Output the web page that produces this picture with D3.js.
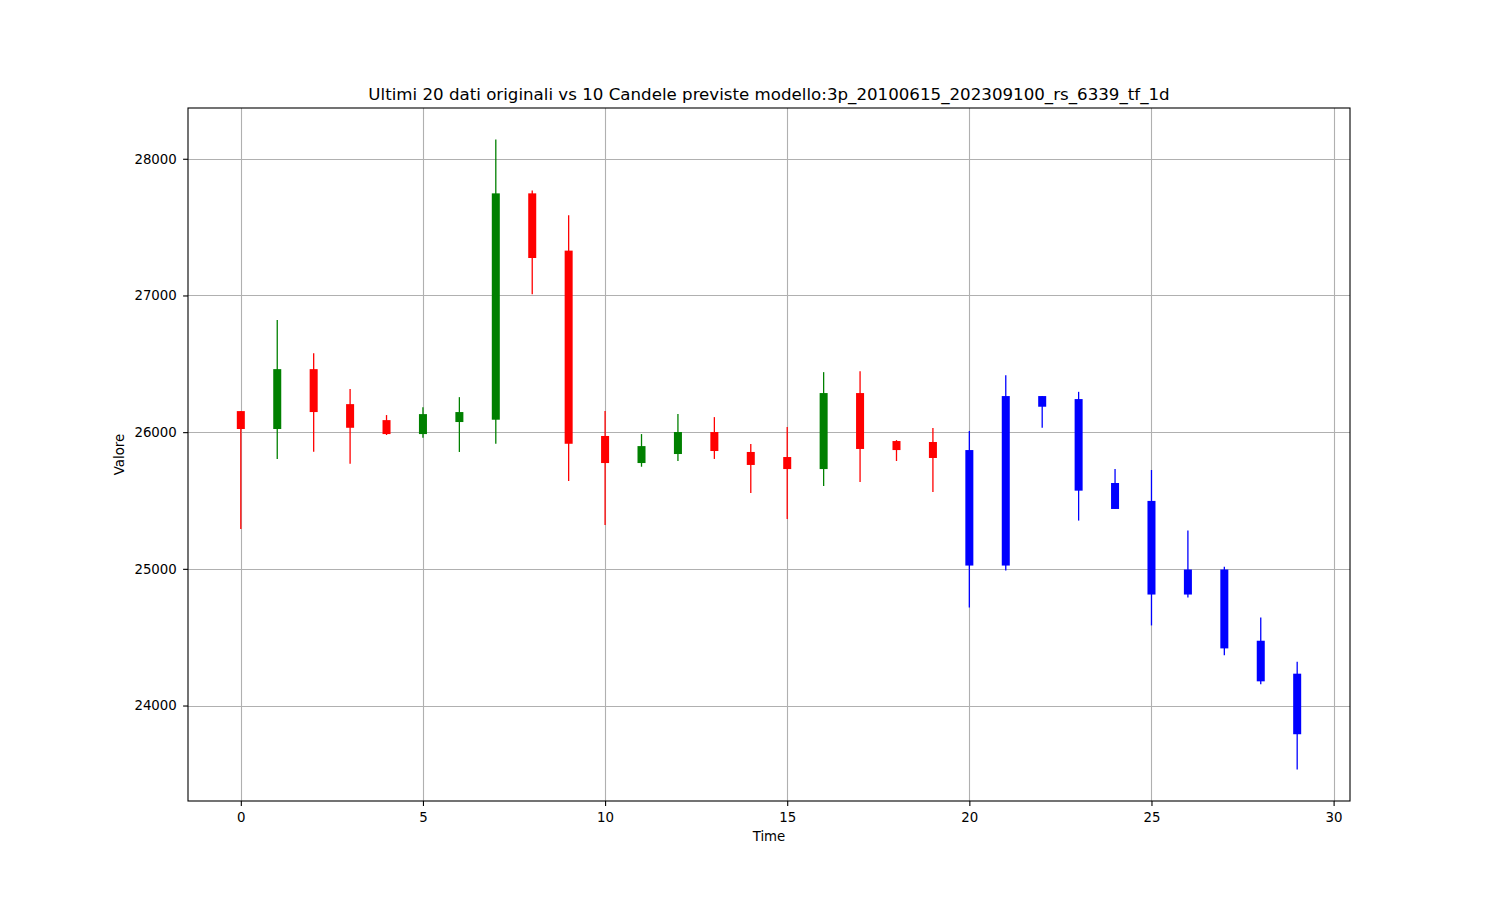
<!DOCTYPE html>
<html>
<head>
<meta charset="utf-8">
<script src="https://cdn.jsdelivr.net/npm/d3@7"></script>
<style>
  body { margin: 0; background: #fff; }
  svg { display: block; }
  text { font-family: "DejaVu Sans", sans-serif; fill: #000; }
</style>
</head>
<body>
<svg id="chart" width="1500" height="900"></svg>
<script>
// ---- data ----
const chartTitle = "Ultimi 20 dati originali vs 10 Candele previste modello:3p_20100615_202309100_rs_6339_tf_1d";
const xLabel = "Time";
const yLabel = "Valore";
const timeIdx = d3.range(30);
const openVals  = [26154,26023,26461,26205,26088,25986,26074,26091,27747,27328,
                   25972,25774,25840,26001,25855,25818,25730,26286,25935,25928,
                   25869,26264,26264,26242,25628,25497,24995,24995,24474,24233];
const closeVals = [26023,26461,26147,26032,25986,26132,26147,27747,27274,25915,
                   25774,25898,26001,25862,25760,25730,26286,25877,25869,25811,
                   25024,25024,26186,25572,25438,24812,24812,24418,24177,23790];
const highVals  = [26154,26821,26578,26315,26125,26183,26256,28141,27768,27586,
                   26154,25986,26132,26110,25913,26037,26439,26446,25942,26030,
                   26008,26417,26264,26295,25730,25723,25280,25015,24644,24321];
const lowVals   = [25292,25804,25857,25769,25979,25959,25855,25915,27009,25643,
                   25321,25747,25789,25804,25555,25365,25606,25636,25789,25562,
                   24717,24988,26032,25353,25438,24586,24790,24367,24155,23532];
const nOriginal = 20;
const xTicks = [0, 5, 10, 15, 20, 25, 30];
const yTicks = [24000, 25000, 26000, 27000, 28000];

// ---- layout ----
const svg = d3.select("#chart");
const L = 188, R = 1350, T = 108, B = 801;
const x = d3.scaleLinear().domain([-1.45, 30.45]).range([L, R]);
const yMin = d3.min(lowVals), yMax = d3.max(highVals), pad = (yMax - yMin) * 0.05;
const y = d3.scaleLinear().domain([yMin - pad, yMax + pad]).range([B, T]);

// grid
const grid = svg.append("g");
grid.selectAll("line.gx").data(xTicks).join("line")
  .attr("x1", d => Math.round(x(d)) + 0.5).attr("x2", d => Math.round(x(d)) + 0.5)
  .attr("y1", T).attr("y2", B).attr("stroke", "#b0b0b0").attr("stroke-width", 1.1);
grid.selectAll("line.gy").data(yTicks).join("line")
  .attr("y1", d => Math.round(y(d)) + 0.5).attr("y2", d => Math.round(y(d)) + 0.5)
  .attr("x1", L).attr("x2", R).attr("stroke", "#b0b0b0").attr("stroke-width", 1.1);

// candles
const data = timeIdx.map((t, i) => ({t, o: openVals[i], c: closeVals[i], h: highVals[i], l: lowVals[i],
  color: i >= nOriginal ? "blue" : (closeVals[i] >= openVals[i] ? "green" : "red")}));
const bw = x(0.22) - x(0);
const cg = svg.append("g");
cg.selectAll("line.wick").data(data).join("line")
  .attr("x1", d => x(d.t)).attr("x2", d => x(d.t))
  .attr("y1", d => y(d.h)).attr("y2", d => y(d.l))
  .attr("stroke", d => d.color).attr("stroke-width", 1.3);
cg.selectAll("rect.body").data(data).join("rect")
  .attr("x", d => x(d.t) - bw / 2).attr("width", bw)
  .attr("y", d => y(Math.max(d.o, d.c)))
  .attr("height", d => Math.max(1, Math.abs(y(d.o) - y(d.c))))
  .attr("fill", d => d.color);

// axes
const xAxis = d3.axisBottom(x).tickValues(xTicks).tickSize(4.9).tickPadding(6.5).tickFormat(d3.format("d"));
const yAxis = d3.axisLeft(y).tickValues(yTicks).tickSize(4.9).tickPadding(6.3).tickFormat(d3.format("d"));
const gx = svg.append("g").attr("transform", `translate(0,${B})`).call(xAxis);
const gy = svg.append("g").attr("transform", `translate(${L},0)`).call(yAxis);
[gx, gy].forEach(g => {
  g.select(".domain").remove();
  g.selectAll("text").style("font-size", "13.33px").style("font-family", "DejaVu Sans, sans-serif").attr("fill", "#000");
  g.selectAll("line").attr("stroke", "#000").attr("stroke-width", 1.1);
});
svg.append("rect").attr("x", L).attr("y", T).attr("width", R - L).attr("height", B - T)
  .attr("fill", "none").attr("stroke", "#000").attr("stroke-width", 1.1);

// labels
svg.append("text").attr("x", (L + R) / 2).attr("y", 100).attr("text-anchor", "middle")
  .style("font-size", "16.67px").text(chartTitle);
svg.append("text").attr("x", (L + R) / 2).attr("y", 841).attr("text-anchor", "middle")
  .style("font-size", "13.33px").text(xLabel);
svg.append("text").attr("transform", `translate(124,${(T + B) / 2}) rotate(-90)`).attr("text-anchor", "middle")
  .style("font-size", "13.33px").text(yLabel);
</script>
</body>
</html>
